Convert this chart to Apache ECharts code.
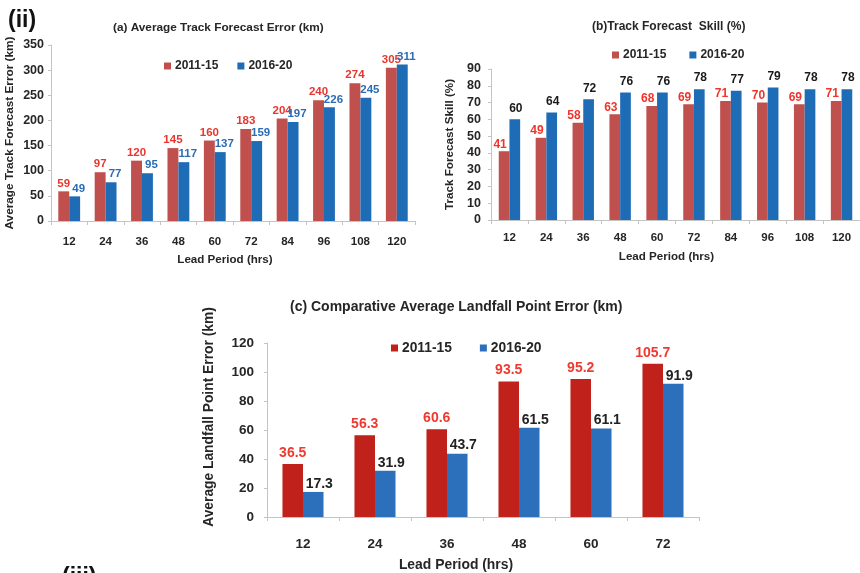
<!DOCTYPE html>
<html>
<head>
<meta charset="utf-8">
<script src="https://cdn.jsdelivr.net/npm/echarts@6/dist/echarts.min.js"></script>
<style>
  html, body { margin: 0; padding: 0; background: #ffffff; }
  #chart { width: 860px; height: 573px; }
</style>
</head>
<body>
<div id="chart"></div>
<script>
// Lead periods (hours)
const leadLong = ['12', '24', '36', '48', '60', '72', '84', '96', '108', '120'];
const leadShort = ['12', '24', '36', '48', '60', '72'];

// (a) Average track forecast error (km)
const trackErr1115 = [59, 97, 120, 145, 160, 183, 204, 240, 274, 305];
const trackErr1620 = [49, 77, 95, 117, 137, 159, 197, 226, 245, 311];

// (b) Track forecast skill (%)
const skill1115 = [41, 49, 58, 63, 68, 69, 71, 70, 69, 71];
const skill1620 = [60, 64, 72, 76, 76, 78, 77, 79, 78, 78];

// (c) Average landfall point error (km)
const landfall1115 = [36.5, 56.3, 60.6, 93.5, 95.2, 105.7];
const landfall1620 = [17.3, 31.9, 43.7, 61.5, 61.1, 91.9];

const periodNames = ['2011-15', '2016-20'];

const FONT = '"Liberation Sans", Arial, sans-serif';
const TXT = '#262626';
const AXIS = '#c4c4c4';

const redA = '#c0504d', blueA = '#1f6cb6';
const redC = '#c0211b', blueC = '#2c70bb';

function catAxis(grid, data, o) {
  return {
    type: 'category', gridIndex: grid, data: data,
    name: 'Lead Period (hrs)', nameLocation: 'middle', nameGap: o.gap,
    nameTextStyle: { fontFamily: FONT, fontWeight: 'bold', fontSize: o.nameSize, color: TXT, padding: [0, o.shift, 0, 0] },
    axisLine: { lineStyle: { color: AXIS } },
    axisTick: { show: true, length: 4, lineStyle: { color: AXIS } },
    axisLabel: { fontFamily: FONT, fontWeight: 'bold', fontSize: o.size, color: TXT, margin: o.margin }
  };
}

function valAxis(grid, max, interval, name, o) {
  return {
    type: 'value', gridIndex: grid, min: 0, max: max, interval: interval,
    name: name, nameLocation: 'middle', nameGap: o.gap, nameRotate: 90,
    nameTextStyle: { fontFamily: FONT, fontWeight: 'bold', fontSize: o.nameSize, color: TXT, padding: [0, 0, 0, o.lift] },
    axisLine: { show: true, lineStyle: { color: AXIS } },
    axisTick: { show: true, length: 3, lineStyle: { color: AXIS } },
    splitLine: { show: false },
    axisLabel: { fontFamily: FONT, fontWeight: 'bold', fontSize: o.size, color: TXT, margin: o.margin }
  };
}

function bars(name, axisIdx, data, color, width, lab) {
  return {
    name: name, type: 'bar', xAxisIndex: axisIdx, yAxisIndex: axisIdx,
    data: data, barWidth: width, barGap: '0%',
    itemStyle: { color: color },
    label: {
      show: true, position: 'top', distance: lab.distance, offset: lab.offset,
      fontFamily: FONT, fontWeight: 'bold', fontSize: lab.size, color: lab.color
    }
  };
}

function legend(top, left, size, gap, colors) {
  return {
    top: top, left: left, itemWidth: 7, itemHeight: 7, itemGap: gap,
    icon: 'rect',
    textStyle: { fontFamily: FONT, fontWeight: 'bold', fontSize: size, color: TXT, padding: [0, 0, 0, -1] },
    data: periodNames.map((n, i) => ({ name: n, itemStyle: { color: colors[i] } })),
    selectedMode: false
  };
}

const chart = echarts.init(document.getElementById('chart'), null, { renderer: 'canvas' });

chart.setOption({
  backgroundColor: '#ffffff',
  animation: false,
  title: [
    { text: '(ii)', left: 3, top: 4, textStyle: { fontFamily: FONT, fontWeight: 'bold', fontSize: 23, color: '#111' } },
    { text: '(iii)', left: 57, top: 561, textStyle: { fontFamily: FONT, fontWeight: 'bold', fontSize: 23, color: '#111' } },
    { text: '(a) Average Track Forecast Error (km)', left: 108, top: 17, textStyle: { fontFamily: FONT, fontWeight: 'bold', fontSize: 11.8, color: TXT } },
    { text: '(b)Track Forecast  Skill (%)', left: 587, top: 16, textStyle: { fontFamily: FONT, fontWeight: 'bold', fontSize: 12, color: TXT } },
    { text: '(c) Comparative Average Landfall Point Error (km)', left: 285, top: 295, textStyle: { fontFamily: FONT, fontWeight: 'bold', fontSize: 14, color: TXT } }
  ],
  legend: [
    legend(55, 159, 12, 19, [redA, blueA]),
    legend(44, 607, 12, 23, [redA, blueA]),
    legend(336, 386, 13.8, 28, [redC, blueC])
  ],
  grid: [
    { left: 51, top: 45, width: 364, height: 176 },
    { left: 491, top: 69, width: 369, height: 151 },
    { left: 267, top: 343, width: 432, height: 178 }
  ],
  xAxis: [
    catAxis(0, leadLong, { size: 11.5, nameSize: 11.6, gap: 33, margin: 15, shift: 16 }),
    catAxis(1, leadLong, { size: 11.5, nameSize: 11.6, gap: 31, margin: 12, shift: 18 }),
    catAxis(2, leadShort, { size: 13.5, nameSize: 13.9, gap: 41, margin: 20, shift: 54 })
  ],
  yAxis: [
    valAxis(0, 350, 50, 'Average Track Forecast Error (km)', { size: 12.5, nameSize: 11.8, gap: 35, margin: 7, lift: 0 }),
    valAxis(1, 90, 10, 'Track Forecast Skill (%)', { size: 12.5, nameSize: 11.7, gap: 35, margin: 10, lift: 0 }),
    valAxis(2, 120, 20, 'Average Landfall Point Error (km)', { size: 13.5, nameSize: 13.8, gap: 51, margin: 13, lift: 26 })
  ],
  series: [
    bars('2011-15', 0, trackErr1115, redA, '30%', { size: 11.5, color: '#e8352e', distance: 2, offset: [0, 0] }),
    bars('2016-20', 0, trackErr1620, blueA, '30%', { size: 11.5, color: '#2b6cb5', distance: 2, offset: [4, 0] }),
    bars('2011-15', 1, skill1115, redA, '29%', { size: 12, color: '#f0342b', distance: 1, offset: [-4, 0] }),
    bars('2016-20', 1, skill1620, blueA, '29%', { size: 12, color: '#1a1a1a', distance: 5, offset: [1, 0] }),
    bars('2011-15', 2, landfall1115, redC, '28.5%', { size: 14, color: '#ee3a30', distance: 4, offset: [0, 0] }),
    bars('2016-20', 2, landfall1620, blueC, '28.5%', { size: 14, color: '#222222', distance: 1, offset: [6, 0] })
  ]
});
</script>
</body>
</html>
